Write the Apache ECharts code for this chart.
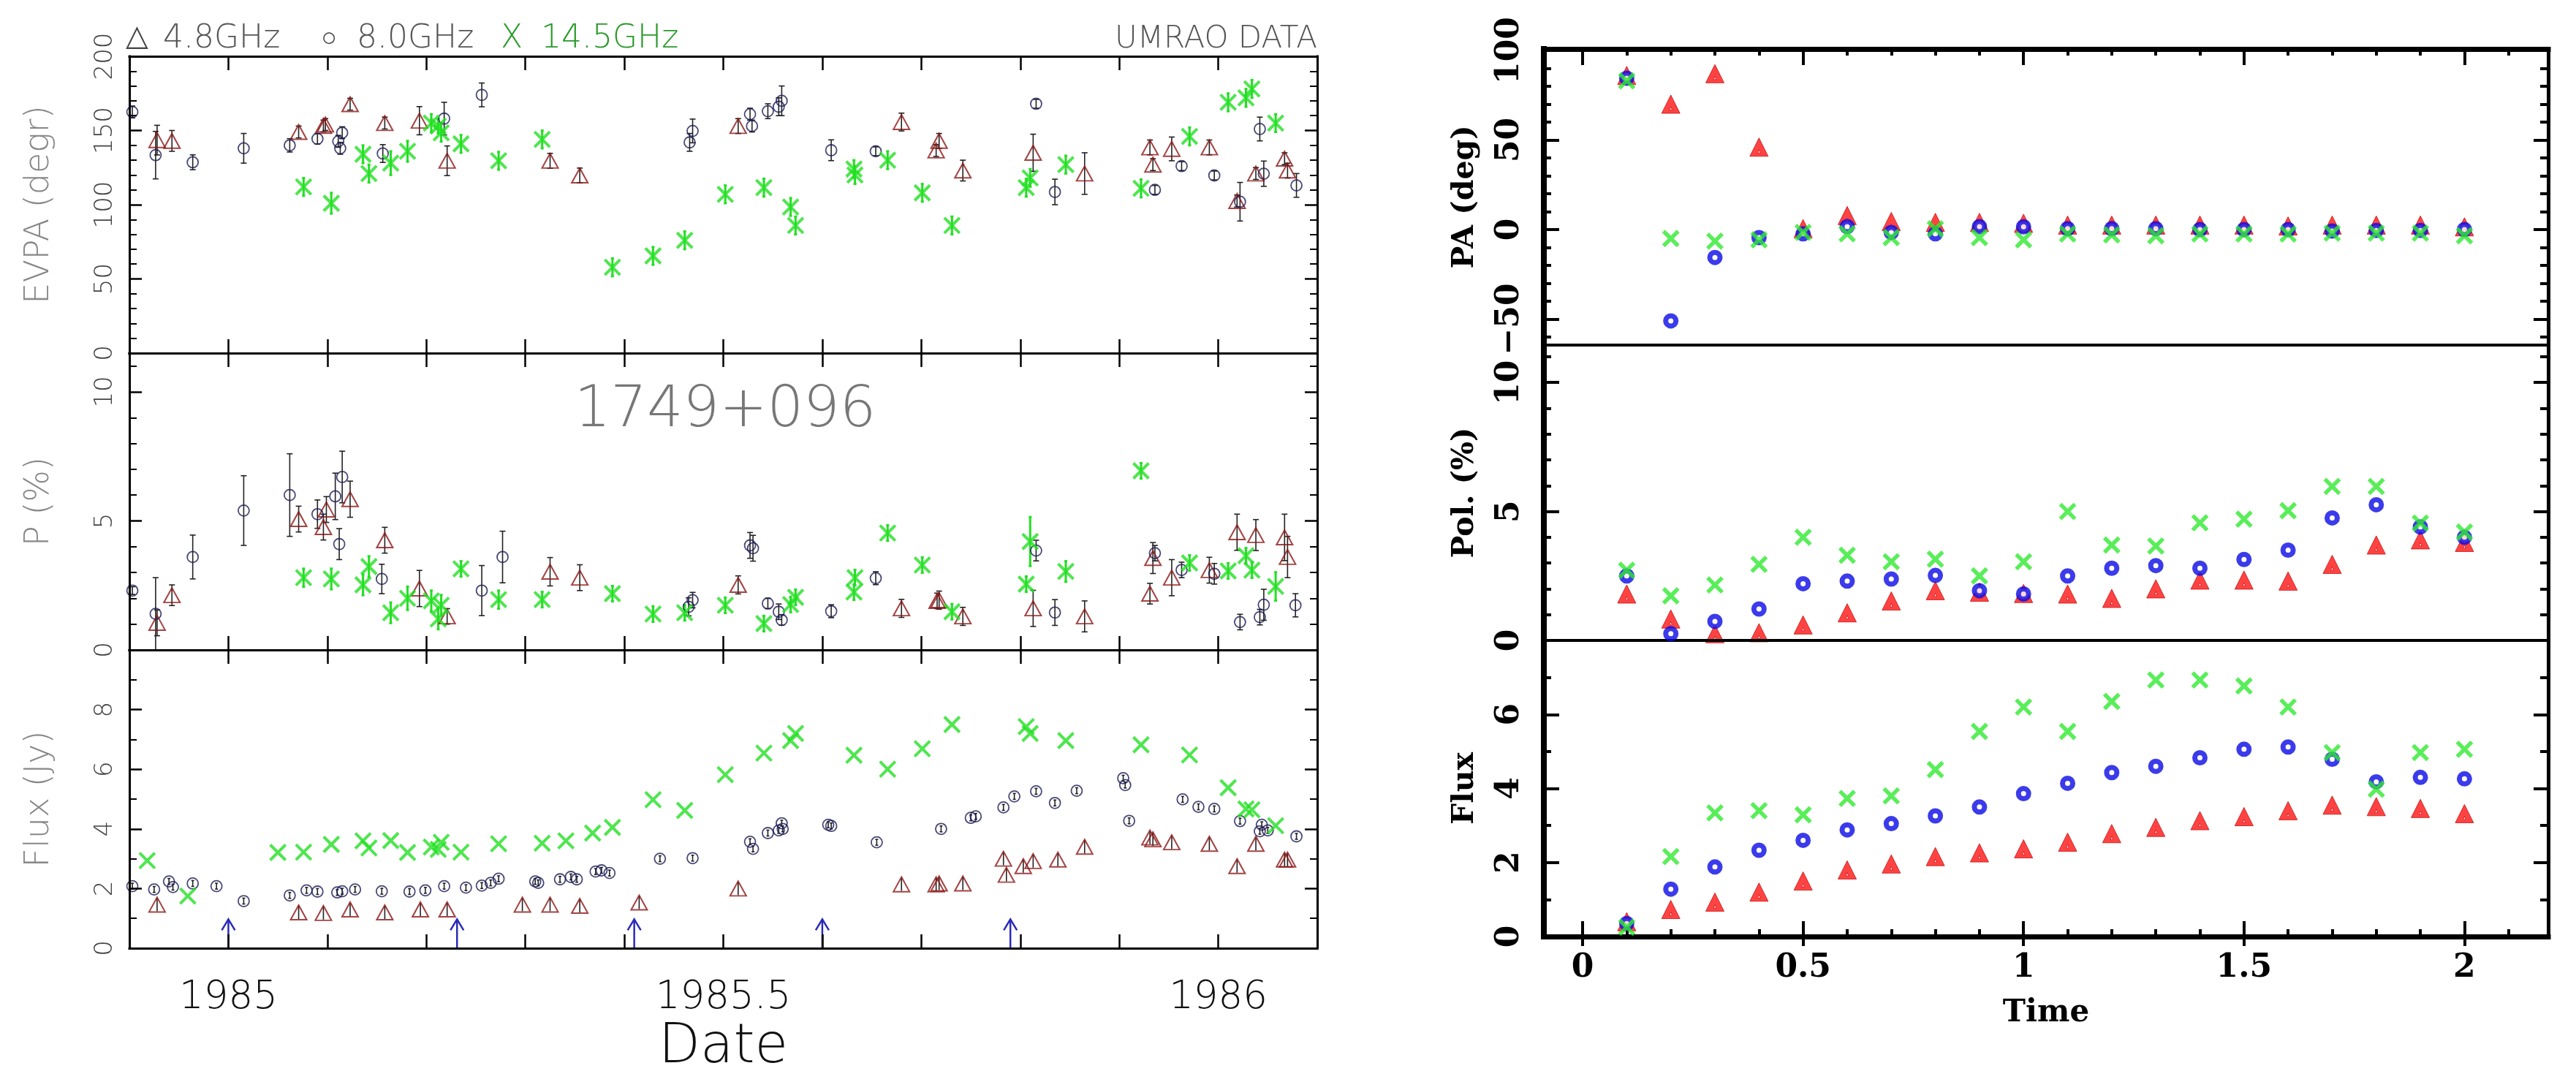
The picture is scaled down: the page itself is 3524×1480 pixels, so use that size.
<!DOCTYPE html>
<html>
<head>
<meta charset="utf-8">
<script src="https://cdn.jsdelivr.net/npm/echarts@6/dist/echarts.min.js"></script>
<style>html,body{margin:0;padding:0;background:#fff}#c{width:3524px;height:1480px}</style>
</head>
<body>
<div id="c"></div>
<script>
// ---------------- LEFT PANEL DATA (UMRAO, 1749+096) ----------------
// EVPA (deg)
const evpa48T = [1984.928,1984.943,1985.071,1985.096,1985.098,1985.123,1985.158,1985.193,1985.221,1985.325,1985.355,1985.515,1985.68,1985.715,1985.718,1985.742,1985.813,1985.865,1985.931,1985.934,1985.953,1985.991,1986.019,1986.038,1986.067,1986.07];
const evpa48V = [143.5,143,149,153,154,167.7,155,156.6,129.6,129.6,119.7,153,155.7,136.5,143,123,135,121,138.6,127,137.6,138.6,102.5,121,131,123];
const evpa48E = [10,7,4,4,4,4,4,9.5,10,5,5,5,6,4,5,7,12.5,14,5,4,8,5,4,4,4,5];
const evpa80T = [1984.903,1984.9265,1984.964,1985.0155,1985.062,1985.09,1985.111,1985.113,1985.115,1985.156,1985.218,1985.256,1985.466,1985.469,1985.527,1985.529,1985.545,1985.556,1985.559,1985.609,1985.654,1985.816,1985.835,1985.936,1985.963,1985.996,1986.022,1986.042,1986.046,1986.079];
const evpa80V = [162.5,133.4,128.6,138,140,144.4,142.7,138,148.5,134.5,158,174,142,149.7,161,153,163,166,170,136.7,136,168,108.6,110,126,119.7,102,151,120.9,113];
const evpa80E = [4,16,5,10,4.5,3.5,4,4,4,6,11,8,6,8,4,4,5,6,10,7,3,3,8.6,3,3,3,13,8,8.5,8];
const evpa145T = [1985.076,1985.104,1985.136,1985.142,1985.164,1985.181,1985.205,1985.212,1985.215,1985.235,1985.273,1985.317,1985.388,1985.429,1985.461,1985.502,1985.541,1985.568,1985.573,1985.632,1985.633,1985.666,1985.701,1985.731,1985.806,1985.81,1985.846,1985.922,1985.971,1986.01,1986.028,1986.034,1986.058];
const evpa145V = [112,101,134,121,128,136,155,153,148.5,141,129.6,144,57.8,65.5,76,107,111.5,98.5,86,124,120,130,108,86,111.5,118,127,111,146,169,172,178,155];
const evpa145E = [6,7,6,6,8,7,6,5,6,6,6,6,6,6,6,6,6,6,6,6,6,6,6,6,6,6,6,6,6,6,6,6,6];
// P (%)
const pol48T = [1984.928,1984.943,1985.071,1985.096,1985.099,1985.123,1985.158,1985.193,1985.221,1985.325,1985.355,1985.515,1985.68,1985.716,1985.718,1985.742,1985.813,1985.865,1985.931,1985.934,1985.953,1985.991,1986.019,1986.038,1986.067,1986.07];
const pol48V = [1.05,2.12,5.07,4.76,5.44,5.84,4.25,2.38,1.3,3.03,2.8,2.52,1.61,1.9,1.93,1.3,1.61,1.3,2.18,3.56,2.8,3.09,4.56,4.45,4.36,3.6];
const pol48E = [0.5,0.4,0.5,0.5,0.5,0.7,0.5,0.7,0.3,0.55,0.5,0.35,0.35,0.3,0.35,0.35,0.7,0.6,0.4,0.6,0.7,0.5,0.7,0.6,0.9,0.8];
const pol80T = [1984.903,1984.9265,1984.964,1985.0155,1985.062,1985.09,1985.108,1985.112,1985.115,1985.155,1985.256,1985.277,1985.465,1985.469,1985.527,1985.53,1985.545,1985.556,1985.559,1985.609,1985.654,1985.816,1985.835,1985.936,1985.963,1985.996,1986.022,1986.042,1986.046,1986.078];
const pol80V = [2.3,1.4,3.6,5.4,6.0,5.26,5.95,4.1,6.7,2.75,2.3,3.6,1.67,1.93,4.05,3.94,1.8,1.48,1.16,1.5,2.78,3.85,1.45,3.75,3.1,2.95,1.08,1.27,1.75,1.73];
const pol80E = [0.15,1.4,0.85,1.35,1.6,0.55,0.9,0.6,1.0,0.57,0.97,1.0,0.35,0.3,0.5,0.5,0.2,0.3,0.2,0.25,0.25,0.4,0.5,0.3,0.3,0.4,0.3,0.3,0.6,0.45];
const pol145T = [1985.076,1985.104,1985.136,1985.142,1985.164,1985.181,1985.205,1985.212,1985.215,1985.235,1985.273,1985.317,1985.388,1985.429,1985.461,1985.502,1985.541,1985.568,1985.573,1985.632,1985.633,1985.666,1985.701,1985.731,1985.806,1985.81,1985.846,1985.922,1985.971,1986.01,1986.028,1986.034,1986.058];
const pol145V = [2.8,2.75,2.52,3.23,1.44,2.0,1.9,1.2,1.73,3.14,1.95,1.95,2.18,1.39,1.44,1.73,1.02,1.76,2.04,2.24,2.8,4.53,3.29,1.48,2.55,4.2,3.04,6.94,3.37,3.06,3.65,3.09,2.46];
const pol145E = [0.35,0.4,0.4,0.4,0.4,0.45,0.4,0.4,0.4,0.3,0.35,0.3,0.3,0.3,0.3,0.3,0.3,0.3,0.3,0.3,0.3,0.3,0.3,0.3,0.3,0.95,0.4,0.3,0.3,0.3,0.3,0.3,0.55];
// Flux (Jy)
const flux48T = [1984.928,1985.071,1985.096,1985.123,1985.158,1985.194,1985.221,1985.297,1985.325,1985.355,1985.415,1985.515,1985.68,1985.715,1985.718,1985.742,1985.783,1985.786,1985.803,1985.813,1985.838,1985.865,1985.931,1985.934,1985.953,1985.991,1986.019,1986.038,1986.067,1986.07];
const flux48V = [1.46,1.2,1.18,1.3,1.2,1.3,1.3,1.46,1.46,1.42,1.53,2.0,2.14,2.14,2.17,2.17,3.0,2.46,2.75,2.92,2.97,3.4,3.71,3.65,3.55,3.5,2.75,3.5,2.97,2.97];
const flux80T = [1984.903,1984.925,1984.94,1984.944,1984.964,1984.988,1985.0155,1985.062,1985.079,1985.09,1985.11,1985.115,1985.128,1985.155,1985.183,1985.199,1985.218,1985.24,1985.256,1985.265,1985.273,1985.31,1985.313,1985.335,1985.346,1985.352,1985.371,1985.377,1985.385,1985.436,1985.469,1985.527,1985.53,1985.545,1985.556,1985.559,1985.56,1985.606,1985.609,1985.655,1985.72,1985.75,1985.755,1985.783,1985.794,1985.816,1985.835,1985.857,1985.904,1985.906,1985.91,1985.964,1985.98,1985.996,1986.022,1986.044,1986.042,1986.05,1986.079];
const flux80V = [2.08,1.97,2.24,2.05,2.17,2.08,1.58,1.77,1.94,1.9,1.87,1.91,1.97,1.91,1.9,1.94,2.08,2.03,2.1,2.19,2.33,2.24,2.19,2.31,2.39,2.31,2.57,2.61,2.52,3.0,3.02,3.57,3.33,3.86,3.95,4.19,4.0,4.14,4.1,3.55,4.0,4.37,4.42,4.72,5.09,5.26,4.87,5.28,5.7,5.47,4.27,4.99,4.74,4.67,4.26,4.14,3.92,3.95,3.75];
const flux145T = [1984.918,1984.959,1985.05,1985.076,1985.104,1985.136,1985.142,1985.164,1985.181,1985.205,1985.212,1985.215,1985.235,1985.273,1985.317,1985.341,1985.368,1985.388,1985.429,1985.461,1985.502,1985.541,1985.568,1985.573,1985.632,1985.666,1985.701,1985.731,1985.806,1985.81,1985.846,1985.922,1985.971,1986.01,1986.028,1986.034,1986.058];
const flux145V = [2.94,1.75,3.21,3.22,3.48,3.6,3.36,3.61,3.21,3.39,3.31,3.55,3.22,3.5,3.52,3.6,3.86,4.05,4.98,4.62,5.82,6.54,6.96,7.2,6.47,6.0,6.69,7.5,7.43,7.2,6.96,6.82,6.48,5.38,4.67,4.64,4.11];
// arrows (dates) in flux panel
const arrowDates = [1985.0, 1985.231, 1985.41, 1985.6, 1985.79];
const arrowTip = 0.97;

// ---------------- RIGHT PANEL DATA (simulation) ----------------
const timeR = [0.1,0.2,0.3,0.4,0.5,0.6,0.7,0.8,0.9,1.0,1.1,1.2,1.3,1.4,1.5,1.6,1.7,1.8,1.9,2.0];
const paR48  = [86,70,87,46,0.5,7.8,4.5,4,4,3.5,2.5,2.5,2.5,2.5,2.5,2,2.5,2.5,2.5,1.5];
const paR80  = [84.5,-51,-15.6,-4.5,-2.4,1.6,-1.6,-2.4,1.6,1.5,0.5,0.5,0.5,0,0,0,-0.8,-0.5,-0.5,0];
const paR145 = [83,-5,-6.5,-5.7,-1.6,-2.4,-4.5,0.4,-4.5,-5.7,-2.5,-3,-3.5,-2.5,-2.5,-2.5,-2,-2,-2,-3.5];
const polR48  = [1.8,0.83,0.26,0.3,0.6,1.07,1.53,1.93,1.87,1.82,1.8,1.63,2.0,2.34,2.34,2.3,2.95,3.7,3.9,3.8];
const polR80  = [2.5,0.26,0.74,1.22,2.2,2.3,2.38,2.52,1.93,1.8,2.5,2.8,2.9,2.8,3.14,3.5,4.75,5.26,4.4,4.0];
const polR145 = [2.72,1.73,2.15,2.95,4.0,3.3,3.05,3.15,2.5,3.05,5.0,3.7,3.66,4.56,4.7,5.03,5.97,5.97,4.55,4.2];
const fluxR48  = [0.4,0.73,0.93,1.2,1.5,1.8,1.96,2.16,2.26,2.37,2.55,2.78,2.95,3.13,3.24,3.4,3.55,3.51,3.46,3.32];
const fluxR80  = [0.35,1.28,1.88,2.33,2.6,2.88,3.05,3.26,3.5,3.86,4.14,4.43,4.6,4.83,5.06,5.12,4.79,4.18,4.3,4.26];
const fluxR145 = [0.25,2.16,3.34,3.4,3.29,3.73,3.8,4.51,5.54,6.2,5.54,6.35,6.93,6.93,6.77,6.2,4.97,3.98,4.97,5.06];

// ---------------- TICKS / LABELS ----------------
const leftXTicks = [1985.0,1985.1,1985.2,1985.3,1985.4,1985.5,1985.6,1985.7,1985.8,1985.9,1986.0];
const leftXLabels = [1985, 1985.5, 1986];
const evpaLabels = [0,50,100,150,200], evpaMajor = [50,100,150], evpaMinor = [10,20,30,40,60,70,80,90,110,120,130,140,160,170,180,190];
const polLLabels = [0,5,10], polLMajor = [5,10], polLMinor = [1,2,3,4,6,7,8,9,11];
const fluxLLabels = [0,2,4,6,8], fluxLMajor = [2,4,6,8], fluxLMinor = [1,3,5,7,9];
const rightXLabels = [0,0.5,1,1.5,2], rightXMajor = [0,0.5,1,1.5,2];
const rightXMinor = [0.1,0.2,0.3,0.4,0.6,0.7,0.8,0.9,1.1,1.2,1.3,1.4,1.6,1.7,1.8,1.9,2.1];
const paLabels = [-50,0,50,100], paMajor = [-50,0,50], paMinor = [-60,-40,-30,-20,-10,10,20,30,40,60,70,80,90];
const polRLabels = [0,5,10], polRMajor = [5,10], polRMinor = [1,2,3,4,6,7,8,9,11];
const fluxRLabels = [0,2,4,6], fluxRMajor = [2,4,6], fluxRMinor = [1,3,5,7];

// ---------------- BUILD ----------------
const SANS = 'DejaVu Sans';
const SERIF = 'DejaVu Serif';
const grids = [
  {left:177, top:77,  width:1625, height:406},
  {left:177, top:483, width:1625, height:406},
  {left:177, top:889, width:1625, height:408},
  {left:2112, top:67,  width:1374, height:405},
  {left:2112, top:472, width:1374, height:404},
  {left:2112, top:876, width:1374, height:405}
].map(g => Object.assign({show:false, containLabel:false, outerBoundsMode:'none'}, g));

function mk(o){
  return {
    type:'value', gridIndex:o.g, min:o.min, max:o.max, position:o.pos, offset:0, silent:true, z:5,
    axisLine:{show:!!o.lw, onZero:false, lineStyle:{color:'#000', width:o.lw||1, cap:'square'}},
    axisTick:{show:!!o.ticks, inside:!o.outside, length:o.tl||10, customValues:o.ticks, lineStyle:{color:'#000', width:o.tw||2}},
    axisLabel:{show:!!o.labels, customValues:o.labels, rotate:o.rot||0, margin:o.m||8,
      formatter:o.fmt||(v=>String(v)), color:o.lc||'#000', fontSize:o.fs||12, fontFamily:o.ff||SANS, fontWeight:o.fw||'normal'},
    splitLine:{show:false}, minorTick:{show:false}, minorSplitLine:{show:false},
    name:o.name||'', nameLocation:'middle', nameGap:o.ng||0, nameTextStyle:o.nts||{}
  };
}
const xAxis = [], yAxis = [];
function addX(o){ xAxis.push(mk(o)); return xAxis.length-1; }
function addY(o){ yAxis.push(mk(o)); return yAxis.length-1; }

const LXR = [1984.9, 1986.1];
const leftY = [
  {min:0, max:200, labels:evpaLabels, major:evpaMajor, minor:evpaMinor, name:'EVPA (degr)'},
  {min:0, max:11.5, labels:polLLabels, major:polLMajor, minor:polLMinor, name:'P (%)'},
  {min:0, max:10, labels:fluxLLabels, major:fluxLMajor, minor:fluxLMinor, name:'Flux (Jy)'}
];
const lx = [], ly = [];
for (let p=0; p<3; p++){
  const g = p;
  const last = (p===2);
  lx.push(addX({g, min:LXR[0], max:LXR[1], pos:'bottom', lw:3, ticks:leftXTicks, tl:19, tw:2.5,
    labels: last ? leftXLabels : null, m:42, fs:53, lc:'#111', fw:200,
    name: last ? 'Date' : '', ng:100, nts:{fontSize:74, fontFamily:SANS, fontWeight:200, color:'#111'}}));
  addX({g, min:LXR[0], max:LXR[1], pos:'top', lw:3, ticks:leftXTicks, tl:19, tw:2.5});
  const Y = leftY[p];
  ly.push(addY({g, min:Y.min, max:Y.max, pos:'left', lw:3, ticks:Y.major, tl:17, tw:2.5,
    labels:Y.labels, rot:90, m:16, fs:34, lc:'#444', fw:200,
    name:Y.name, ng:100, nts:{fontSize:46, fontFamily:SANS, fontWeight:200, color:'#888'}}));
  addY({g, min:Y.min, max:Y.max, pos:'left', ticks:Y.minor, tl:10, tw:2});
  addY({g, min:Y.min, max:Y.max, pos:'right', lw:3, ticks:Y.major, tl:17, tw:2.5});
  addY({g, min:Y.min, max:Y.max, pos:'right', ticks:Y.minor, tl:10, tw:2});
}

const RXR = [-0.088, 2.19];
const rightY = [
  {min:-64.5, max:100.8, labels:paLabels, major:paMajor, minor:paMinor, name:'PA (deg)'},
  {min:0, max:11.45, labels:polRLabels, major:polRMajor, minor:polRMinor, name:'Pol. (%)'},
  {min:0, max:8, labels:fluxRLabels, major:fluxRMajor, minor:fluxRMinor, name:'Flux'}
];
const rfmt = v => (v < 0 ? '\u2212' + (-v) : String(v));
const rx = [], ry = [];
for (let p=0; p<3; p++){
  const g = 3+p;
  const first = (p===0), last = (p===2);
  rx.push(addX({g, min:RXR[0], max:RXR[1], pos:'bottom', lw: last ? 7 : 4,
    ticks: last ? rightXMajor : null, tl:21, tw:4,
    labels: last ? rightXLabels : null, m:22, fs:44, ff:SERIF, fw:'bold', lc:'#000',
    name: last ? 'Time' : '', ng:84, nts:{fontSize:42, fontFamily:SERIF, fontWeight:'bold', color:'#000'}}));
  if (last){
    addX({g, min:RXR[0], max:RXR[1], pos:'bottom', ticks:rightXMinor, tl:10, tw:4});
    addX({g, min:RXR[0], max:RXR[1], pos:'bottom', ticks:rightXMajor, tl:13, tw:4, outside:true});
  }
  addX({g, min:RXR[0], max:RXR[1], pos:'top', lw: first ? 7 : 4, ticks: first ? rightXMajor : null, tl:22, tw:4});
  if (first) addX({g, min:RXR[0], max:RXR[1], pos:'top', ticks:rightXMinor, tl:9, tw:4});
  const Y = rightY[p];
  ry.push(addY({g, min:Y.min, max:Y.max, pos:'left', lw:8, ticks:Y.major, tl:21, tw:4,
    labels:Y.labels, rot:90, m:24, fs:44, ff:SERIF, fw:'bold', lc:'#000', fmt:rfmt,
    name:Y.name, ng:87, nts:{fontSize:41, fontFamily:SERIF, fontWeight:'bold', color:'#000'}}));
  addY({g, min:Y.min, max:Y.max, pos:'left', ticks:Y.minor, tl:10, tw:4});
  addY({g, min:Y.min, max:Y.max, pos:'right', lw:5, ticks:Y.major, tl:20, tw:4});
  addY({g, min:Y.min, max:Y.max, pos:'right', ticks:Y.minor, tl:11, tw:4});
}

// ---------------- SERIES ----------------
function zip3(T, V, E){ return T.map((t,i) => E ? [t, V[i], E[i]] : [t, V[i]]); }
function errSeries(xi, yi, pts, color, lw, cap, fixedHalf){
  return {type:'custom', xAxisIndex:xi, yAxisIndex:yi, silent:true, animation:false, z:3,
    encode:{x:0, y:1}, data:pts,
    renderItem:function(params, api){
      const x = api.value(0), y = api.value(1);
      const c = api.coord([x, y]);
      let y1, y2;
      if (fixedHalf){ y1 = c[1]-fixedHalf; y2 = c[1]+fixedHalf; }
      else { const e = api.value(2); y1 = api.coord([x, y+e])[1]; y2 = api.coord([x, y-e])[1]; }
      const st = {stroke:color, lineWidth:lw};
      const ch = [{type:'line', shape:{x1:c[0], y1:y1, x2:c[0], y2:y2}, style:st}];
      if (cap > 0){
        ch.push({type:'line', shape:{x1:c[0]-cap, y1:y1, x2:c[0]+cap, y2:y1}, style:st});
        ch.push({type:'line', shape:{x1:c[0]-cap, y1:y2, x2:c[0]+cap, y2:y2}, style:st});
      }
      return {type:'group', children:ch};
    }};
}
function sc(xi, yi, pts, sym, size, style, z){
  return {type:'scatter', xAxisIndex:xi, yAxisIndex:yi, data:pts, symbol:sym, symbolSize:size,
    itemStyle:style, silent:true, animation:false, z:z||4};
}
const XPATH = 'path://M0,0L10,10M10,0L0,10';
const TRIHOLE = 'path://M50,0L100,100L0,100ZM50,64L43,82L57,82Z';
const triL = {color:'rgba(255,255,255,0)', borderColor:'#8c1515', borderWidth:2};
const circL = {color:'rgba(255,255,255,0)', borderColor:'#1a1a55', borderWidth:1.8};
const xL = {color:'#22e022', borderColor:'#22e022', borderWidth:4};

const series = [];
const leftSets = [
  [[evpa48T, evpa48V, evpa48E], [evpa80T, evpa80V, evpa80E], [evpa145T, evpa145V, evpa145E]],
  [[pol48T, pol48V, pol48E], [pol80T, pol80V, pol80E], [pol145T, pol145V, pol145E]],
  [[flux48T, flux48V, null], [flux80T, flux80V, null], [flux145T, flux145V, null]]
];
for (let p=0; p<3; p++){
  const xi = lx[p], yi = ly[p];
  const [s48, s80, s145] = leftSets[p];
  const flux = (p===2);
  series.push(errSeries(xi, yi, zip3(s48[0], s48[1], s48[2]), '#222', 1.6, flux?0:4, flux?9:0));
  series.push(sc(xi, yi, zip3(s48[0], s48[1]), 'triangle', [22,20], triL, 4));
  series.push(errSeries(xi, yi, zip3(s80[0], s80[1], s80[2]), '#222', 1.6, flux?2:4, flux?4:0));
  series.push(sc(xi, yi, zip3(s80[0], s80[1]), 'circle', 15, circL, 4));
  if (!flux) series.push(errSeries(xi, yi, zip3(s145[0], s145[1], s145[2]), '#22e022', 3, 2, 0));
  series.push(sc(xi, yi, zip3(s145[0], s145[1]), XPATH, [21,21], xL, 5));
}
// arrows
series.push({type:'custom', xAxisIndex:lx[2], yAxisIndex:ly[2], silent:true, animation:false, z:3,
  encode:{x:0, y:1}, data:arrowDates.map(t => [t, 0]),
  renderItem:function(params, api){
    const t = api.value(0);
    const p0 = api.coord([t, 0]), p1 = api.coord([t, arrowTip]);
    const st = {stroke:'#2a2ab8', lineWidth:2.5, fill:'none'};
    return {type:'group', children:[
      {type:'line', shape:{x1:p0[0], y1:p0[1], x2:p1[0], y2:p1[1]}, style:st},
      {type:'polyline', shape:{points:[[p1[0]-9, p1[1]+15],[p1[0], p1[1]],[p1[0]+9, p1[1]+15]]}, style:st}
    ]};
  }});

const rightSets = [[paR48, paR80, paR145], [polR48, polR80, polR145], [fluxR48, fluxR80, fluxR145]];
for (let p=0; p<3; p++){
  const xi = rx[p], yi = ry[p];
  const [a, b, c] = rightSets[p];
  series.push(sc(xi, yi, zip3(timeR, a), TRIHOLE, [25,25], {color:'#ff1414', borderColor:'#c41010', borderWidth:1}, 4));
  series.push(sc(xi, yi, zip3(timeR, b), 'circle', 14, {color:'#ffffff', borderColor:'#0a0ae6', borderWidth:7}, 5));
  series.push(sc(xi, yi, zip3(timeR, c), XPATH, [20,20], {color:'#30ea30', borderColor:'#30ea30', borderWidth:5.5}, 6));
}

// ---------------- TEXT ----------------
function txt(x, y, s, fs, fill, align, fw){
  return {type:'text', x:x, y:y, silent:true, z:10,
    style:{text:s, fontSize:fs, fontFamily:SANS, fontWeight:fw||200, fill:fill, align:align||'left', verticalAlign:'middle'}};
}
const graphic = [
  txt(187, 52, '\u25B3', 40, '#444', 'center'),
  txt(223, 54, '4.8GHz', 44, '#555'),
  txt(450, 54, '\u25CB', 36, '#444', 'center'),
  txt(488, 54, '8.0GHz', 44, '#555'),
  txt(700, 54, 'X', 44, '#2a9a2a', 'center'),
  txt(740, 54, '14.5GHz', 44, '#2a9a2a'),
  txt(1802, 54, 'UMRAO DATA', 42, '#555', 'right'),
  txt(992, 563, '1749+096', 78, '#777', 'center')
];

const chart = echarts.init(document.getElementById('c'), null, {renderer:'canvas', width:3524, height:1480});
chart.setOption({
  backgroundColor:'#fff', animation:false,
  grid:grids, xAxis:xAxis, yAxis:yAxis, series:series, graphic:graphic
});
</script>
</body>
</html>
